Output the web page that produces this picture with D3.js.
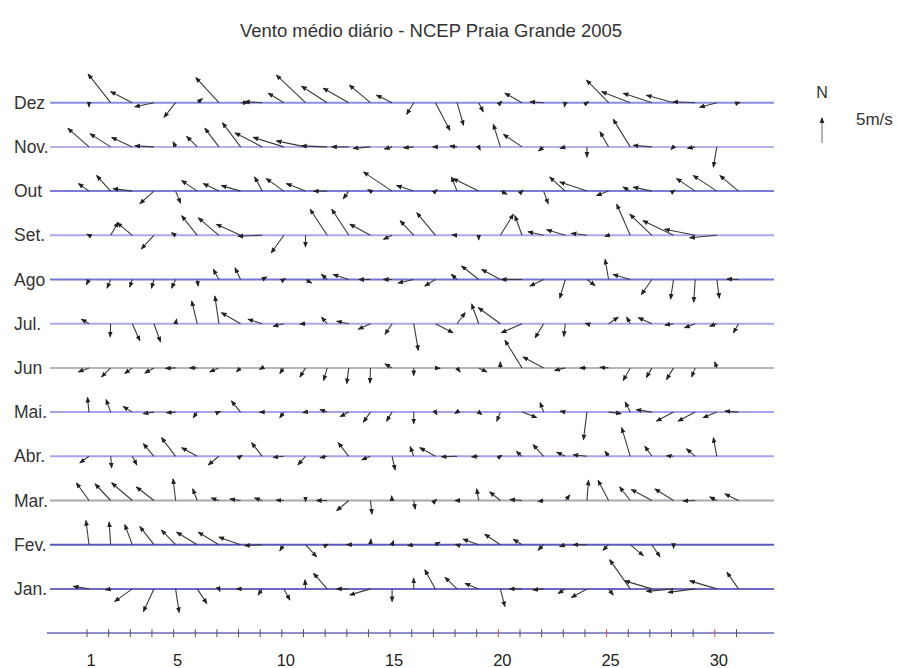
<!DOCTYPE html>
<html><head><meta charset="utf-8">
<script src="https://cdn.jsdelivr.net/npm/d3@7"></script>
<style>body{margin:0;background:#fff}svg{display:block}</style>
</head><body>
<svg id="c" width="897" height="668"></svg>
<script>
// Wind components [u (east), v (north)] in m/s, one pair per day
const dez = [[0,-0.8],[-4.5,5.7],[-4.3,2.2],[-3.8,-0.8],[-2.3,-2.9],[1.0,0.8],[-4.6,5.0],[1.5,0],[-3.5,0.2],[-3.1,1.9],[-5.8,5.5],[-5.1,3.3],[-5.1,2.9],[-4.2,3.5],[-3.1,1.5],[-1.4,-2.3],[2.9,-5.5],[1.3,-4.5],[0.9,-1.8],[0.3,0.3],[-3.4,1.9],[-2.7,0.2],[-0.2,-0.8],[0.3,0.2],[-4.4,4.5],[-5.7,2.2],[-5.7,1.9],[-5.4,1.5],[-4.4,0.2],[-3.4,-0.9],[0.3,0.1]];
const nov = [[-4.2,3.7],[-4.1,2.6],[-4.1,1.9],[-3.8,0.2],[-0.5,1.0],[-2.1,2.1],[-2.8,3.7],[-3.6,4.8],[-5.4,2.8],[-6.1,1.9],[-5.8,1.2],[-5.1,0.2],[-3.4,0],[-3.4,-0.3],[-1.5,-0.4],[-2.0,-0.2],[-0.5,0],[-1.4,0.2],[0.3,-0.6],[-1.4,4.5],[-3.7,2.5],[-1.0,-0.8],[-1.0,-0.3],[0,-2.0],[-1.7,3.0],[-3.4,5.5],[-3.7,0.3],[-0.5,-0.5],[-1.5,-0.3],[-0.7,-4.0]];
const out = [[-2.1,1.5],[-2.8,3.1],[-3.8,0.5],[-2.8,-2.5],[1.0,-2.4],[-3.1,2.1],[-3.1,1.5],[-3.8,1.1],[-1.5,2.8],[-3.5,2.5],[-3.8,1.5],[-2.7,0],[-1.1,-1.5],[-0.5,0.3],[-5.7,3.8],[-3.4,1.1],[0.3,0.3],[-1.1,2.8],[-5.1,2.5],[1.3,-0.6],[0.2,0.2],[0.9,-2.5],[-3.1,2.8],[-5.4,1.8],[-2.4,-0.9],[-1.4,0.8],[-3.7,0.8],[0.3,0.2],[-3.7,2.5],[-4.7,3.1],[-3.7,3.1]];
const set = [[-0.4,0.2],[1.5,2.6],[-3.0,2.5],[-2.5,-2.7],[-0.8,0.5],[-3.1,3.9],[-4.1,3.5],[-4.8,2.2],[-4.8,-0.2],[-2.5,-3.5],[0,-2.3],[-3.4,5.2],[-3.4,5.2],[-4.1,2.2],[-1.7,-0.8],[-2.7,2.9],[-3.7,4.5],[-1.0,0.1],[0,-0.9],[2.6,4.2],[-1.4,3.9],[-3.1,0.7],[-3.7,1.1],[-3.1,0.4],[-0.7,-0.2],[-2.7,6.2],[-4.4,4.2],[-6.1,2.9],[-6.1,1.2],[-5.4,-0.5]];
const ago = [[-0.5,-1.0],[-0.7,-1.7],[-0.5,-1.5],[-0.5,-1.7],[-0.8,-1.7],[0.2,-1.3],[-1.1,2.0],[-1.1,2.3],[0.9,0.5],[0.3,0.2],[1.2,-0.7],[-1.1,1.0],[-3.1,1.0],[-2.3,0],[-1.7,0],[-3.1,-0.7],[-2.1,-1.3],[-1.1,1.0],[-3.4,2.7],[-3.7,2.0],[-4.1,0],[-2.7,-1.3],[-1.1,-3.7],[1.6,-1.2],[-0.7,4.0],[-3.4,1.0],[-2.1,-3.0],[-0.6,-3.9],[-0.3,-4.5],[0.5,-3.7],[-2.3,0.1]];
const jul = [[-1.5,0.9],[-0.1,-2.6],[1.5,-3.4],[1.3,-3.6],[0.2,0.9],[-1.1,4.5],[-0.8,5.5],[-3.8,2.2],[-2.8,0.9],[-2.1,-0.5],[-1.1,-0.1],[-1.1,1.3],[-2.4,0.5],[-2.4,-1.1],[-1.4,-2.1],[0.9,-5.3],[3.5,-1.8],[1.6,2.2],[-1.4,3.9],[-4.4,3.2],[-4.1,-1.8],[-1.7,-2.8],[-0.3,-2.5],[-0.3,0.1],[1.9,1.3],[-0.7,1.3],[-2.7,1.2],[-1.7,-0.3],[-2.1,-0.8],[-1.4,-0.5],[-1.0,-1.8]];
const jun = [[-2.1,-0.8],[-1.8,-1.8],[-1.5,-1.1],[-1.8,-1.0],[-2.0,-0.1],[-1.5,0],[-1.8,-0.8],[-0.8,-0.8],[-0.5,-0.3],[-0.8,-1.1],[-1.1,-1.8],[-0.7,-2.5],[-0.4,-3.1],[-0.1,-3.0],[-1.4,0.8],[0,-1.5],[0.9,-0.1],[0.6,-0.8],[1.6,-0.8],[0,1.2],[-3.4,5.5],[-4.1,2.2],[-2.1,-0.5],[-1.4,0],[-1.7,0.1],[-1.4,-2.5],[-1.1,-1.9],[-1.4,-2.3],[-0.7,-1.8],[-0.4,1.2]];
const mai = [[-0.3,2.9],[-0.9,2.5],[-1.8,1.1],[-2.1,-0.3],[-1.8,-0.1],[-0.8,-1.1],[0.3,0.1],[-1.8,2.2],[-0.5,0],[-0.8,-1.1],[-0.5,-0.1],[-1.4,0.5],[-1.7,-0.9],[-1.4,-2.0],[-1.1,-1.8],[0,-2.3],[0.3,-0.5],[-0.4,-0.3],[0.6,-0.5],[-0.7,-1.8],[2.9,-1.1],[-0.7,1.9],[-1.0,0.2],[-0.7,-5.5],[2.5,-0.3],[-1.0,2.0],[-3.1,0.5],[-3.4,-1.8],[-3.4,-1.8],[-2.7,-1.1],[-2.7,0.2]];
const abr = [[-1.8,-1.3],[0.2,-2.3],[0.9,-1.7],[-2.1,2.5],[-2.8,3.7],[-3.1,1.7],[-2.1,-1.7],[0.3,0.2],[-2.1,2.7],[-2.1,-0.2],[-1.5,-1.7],[-1.4,-0.3],[-2.1,2.7],[-1.7,-0.7],[0.6,-2.7],[-0.7,1.9],[-3.1,1.7],[-3.1,-0.1],[-1.4,-0.1],[0.3,0.2],[-1.1,1.0],[-2.1,2.3],[-1.7,0.8],[-2.7,0.3],[-0.7,1.0],[-1.7,5.7],[-1.4,2.0],[-1.4,0.1],[-1.7,1.5],[-0.7,3.7]];
const mar = [[-2.5,3.5],[-3.1,3.3],[-4.1,3.5],[-3.5,2.7],[-0.5,4.3],[-0.9,2.3],[-1.5,0.5],[-2.1,0.3],[-1.5,0.5],[-1.5,0.1],[0,-0.2],[-2.1,0],[-2.4,-2.0],[0.3,-2.7],[-0.1,0.9],[0.3,-1.7],[0.2,0.2],[-0.4,0],[-0.4,2.3],[-2.1,1.7],[-2.4,0.2],[-1.1,-0.2],[0.9,1.1],[0.3,4.0],[-2.1,4.0],[-2.1,2.7],[-4.1,2.2],[-3.7,2.3],[-2.4,-0.1],[-1.4,0.7],[-2.7,1.3]];
const fev = [[-0.6,4.8],[-0.3,4.5],[-1.5,4.0],[-2.8,3.6],[-2.8,2.9],[-4.1,2.5],[-4.1,2.5],[-4.3,1.5],[-3.5,-0.2],[-0.8,-1.2],[2.2,-2.4],[0.2,0.1],[-0.4,0],[0.1,1.1],[0.3,0.8],[-1.2,-0.2],[0.9,0.5],[-0.3,0.1],[-3.1,1.1],[-3.1,2.1],[-1.7,1.1],[-1.1,-1.1],[-1.1,-0.4],[-2.7,0],[-1.1,-1.1],[2.6,-2.2],[1.6,-2.4],[0,-0.7]];
const jan = [[-3.1,0.5],[-1.0,-0.2],[-3.5,-2.5],[-2.1,-4.5],[0.7,-4.7],[1.9,-2.9],[0.2,-0.5],[-0.8,0],[-0.8,-1.2],[1.2,-2.2],[-0.1,1.8],[-2.7,3.1],[-2.4,0],[-4.1,-1.2],[0,-2.5],[0,2.1],[-2.1,3.8],[-2.4,2.3],[-2.7,1.1],[0.9,-3.5],[-2.5,0],[-2.1,-0.2],[-1.4,-0.9],[-3.1,-1.7],[0.9,-1.2],[-4.1,5.8],[-5.4,1.6],[-5.4,-0.5],[-5.4,-0.7],[-5.4,1.6],[-2.3,3.3]];

const monthLabels = ["Dez","Nov.","Out","Set.","Ago","Jul.","Jun","Mai.","Abr.","Mar.","Fev.","Jan."];
const monthData = [dez, nov, out, set, ago, jul, jun, mai, abr, mar, fev, jan];
const dayTicks = d3.range(1, 32);
const dayLabels = [1, 5, 10, 15, 20, 25, 30];
const redTicks = [20, 25, 30];
const rowColors = ["#8c8ce0","#b2b2ec","#7c7cd8","#a8a8ec","#7474d6","#a8a8ec","#b6b6c0","#a4a4ec","#a4a4ec","#a8a8b2","#5a5ac0","#6a6ac8"];
const title = "Vento médio diário - NCEP Praia Grande 2005";
const refSpeed = 5;

const FONT = "'Liberation Sans', Arial, sans-serif";
const svg = d3.select("#c");
const x = d3.scaleLinear().domain([1, 31]).range([89, 738.5]);
const y = d3.scalePoint().domain([...monthLabels, "axis"]).range([102.7, 633.1]);
const k = d3.scaleLinear().domain([0, 5]).range([0, 25]);

svg.append("defs").append("marker")
  .attr("id", "ah").attr("markerUnits", "userSpaceOnUse")
  .attr("viewBox", "0 -3 6 6").attr("refX", 5).attr("refY", 0)
  .attr("markerWidth", 6).attr("markerHeight", 6).attr("orient", "auto")
  .append("path").attr("d", "M0,-2.4L6,0L0,2.4Z").attr("fill", "#222");

svg.append("text").attr("x", 431).attr("y", 37).attr("text-anchor", "middle")
  .style("font", "18.5px " + FONT).attr("fill", "#333").text(title);

// baselines
svg.selectAll("line.base").data(monthLabels).join("line")
  .attr("class", "base")
  .attr("x1", 50).attr("x2", 774)
  .attr("y1", d => y(d)).attr("y2", d => y(d))
  .attr("stroke", (d, i) => rowColors[i]).attr("stroke-width", 2);

svg.selectAll("text.mlab").data(monthLabels).join("text")
  .attr("class", "mlab").attr("x", 14).attr("y", d => y(d) + 6)
  .style("font", "17.5px " + FONT).attr("fill", "#333")
  .text(d => d);

// arrows
monthLabels.forEach((m, i) => {
  const g = svg.append("g");
  g.selectAll("line").data(monthData[i]).join("line")
    .attr("x1", (d, j) => x(j + 1)).attr("y1", y(m))
    .attr("x2", (d, j) => x(j + 1) + k(d[0])).attr("y2", d => y(m) - k(d[1]))
    .attr("stroke", "#3a3a3a").attr("stroke-width", 1.1)
    .attr("marker-end", "url(#ah)");
});

// bottom axis
const ay = y("axis");
svg.append("line").attr("x1", 47).attr("x2", 774).attr("y1", ay).attr("y2", ay)
  .attr("stroke", "#6868b8").attr("stroke-width", 1.5);
svg.selectAll("line.tick").data(dayTicks).join("line").attr("class", "tick")
  .attr("x1", d => x(d) - 2).attr("x2", d => x(d) - 2)
  .attr("y1", ay - 4).attr("y2", ay + 4)
  .attr("stroke", d => redTicks.includes(d) ? "#d05050" : "#555").attr("stroke-width", 1);
svg.selectAll("text.dl").data(dayLabels).join("text").attr("class", "dl")
  .attr("x", d => x(d) + 2).attr("y", ay + 33).attr("text-anchor", "middle")
  .style("font", "16.5px " + FONT).attr("fill", "#222")
  .text(d => d);

// legend
svg.append("text").attr("x", 822).attr("y", 98).attr("text-anchor", "middle")
  .style("font", "16px " + FONT).attr("fill", "#333").text("N");
svg.append("line").attr("x1", 822).attr("x2", 822)
  .attr("y1", 143).attr("y2", 143 - k(refSpeed))
  .attr("stroke", "#666").attr("stroke-width", 1).attr("marker-end", "url(#ah)");
svg.append("text").attr("x", 856).attr("y", 125)
  .style("font", "17px " + FONT).attr("fill", "#333").text(refSpeed + "m/s");
</script>
</body></html>
